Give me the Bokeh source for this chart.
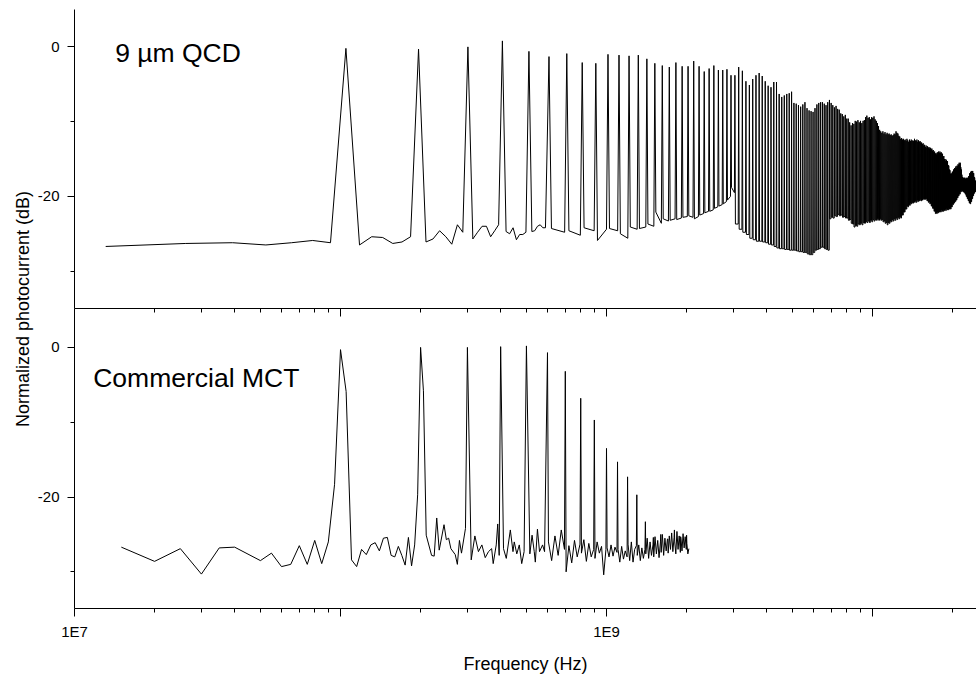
import math

from bokeh.embed import file_html
from bokeh.layouts import column, row
from bokeh.models import CustomJSTickFormatter, FixedTicker, Label, LogAxis, Range1d
from bokeh.plotting import figure
from bokeh.resources import INLINE

FONT = "Liberation Sans"

# ---------------------------------------------------------------------------
# 9 um QCD: beat-note spectrum of the comb
# ---------------------------------------------------------------------------
# Lowest FFT bins (13.1 MHz grid, bins 1..45), first five comb lines included
QCD_BIN_MHZ = 13.1
qcd_low_db = [
    -26.7, -26.3, -26.2, -26.5, -26.2, -25.9, -26.2,
    -0.2,
    -26.5, -25.4, -25.5, -26.3, -26.1, -25.4,
    -0.3,
    -26.1, -25.7, -24.6, -25.4, -26.4, -23.8, -24.8,
    0.0,
    -25.7, -24.8, -24.0, -24.0, -25.4, -24.6, -23.8,
    0.8,
    -24.7, -25.0, -24.2, -25.8, -25.1, -25.1, -24.8,
    -0.6,
    -24.7, -24.6, -24.0, -23.8, -24.2, -24.2,
]

# Comb lines from the 6th harmonic upwards: line level and noise floor after it
QCD_FREP_MHZ = 101.3
QCD_FIRST_HARMONIC = 6
qcd_peak_db = [
    -1.3, -0.9, -2.1, -2.2, -1.0, -1.1, -1.2, -1.1, -1.6, -2.2,
    -2.5, -2.7, -2.1, -2.6, -2.6, -1.9, -2.6, -3.3, -2.9, -2.5,
    -3.1, -3.1, -3.0, -3.8, -3.8, -2.7, -3.2, -4.6, -5.1, -4.3,
    -3.8, -3.5, -3.9, -4.6, -5.2, -5.4, -4.7, -4.7, -6.3, -6.7,
    -6.5, -6.3, -6.2, -6.0, -7.5, -7.6, -7.8, -8.0, -7.7, -7.4,
    -8.2, -8.5, -8.6, -8.7, -8.2, -7.7, -7.5, -7.4, -7.4, -7.6,
    -7.8, -7.4, -7.1, -7.5, -7.8, -8.1, -7.9, -8.3, -8.4, -8.9,
    -9.0, -9.3, -9.1, -9.6, -9.6, -10.1, -10.5, -10.2, -10.3, -9.9,
    -10.0, -9.8, -10.1, -9.9, -10.2, -9.9, -9.8, -9.4, -9.2, -9.5,
    -9.4, -9.7, -9.4, -9.5, -9.3, -9.7, -9.9, -10.2, -10.6, -11.1,
    -11.3, -11.5, -11.3, -11.6, -11.4, -11.7, -11.5, -11.7, -11.6, -11.8,
    -11.7, -11.9, -11.8, -11.6, -11.7, -11.3, -11.5, -11.6, -11.9, -12.0,
    -12.3, -12.2, -12.4, -12.3, -12.5, -12.4, -12.6, -12.3, -12.5, -12.7,
    -12.4, -12.6, -12.4, -12.6, -12.5, -12.6, -12.3, -12.5, -12.6, -12.4,
    -12.7, -12.5, -12.7, -12.6, -12.8, -12.8, -13.0, -12.9, -13.2, -13.1,
    -13.4, -13.2, -13.5, -13.3, -13.5, -13.4, -13.6, -13.5, -13.7, -13.6,
    -13.9, -13.8, -14.1, -14.0, -14.3, -14.2, -14.4, -14.1, -14.3, -14.0,
    -14.2, -14.0, -14.2, -14.1, -14.3, -14.3, -14.7, -14.6, -15.0, -15.0,
    -15.3, -15.1, -15.3, -15.3, -15.8, -15.9, -16.4, -16.5, -17.0, -16.9,
    -17.0, -16.7, -16.7, -16.4, -16.5, -16.2, -16.3, -16.0, -16.2, -15.9,
    -16.0, -15.7, -15.8, -15.5, -15.7, -15.5, -16.1, -16.4, -17.1, -17.4,
    -17.7, -17.5, -17.7, -17.5, -17.6, -17.7, -17.5, -17.6, -17.7, -17.5,
    -17.6, -17.3, -17.3, -16.9, -17.0, -16.7, -16.9, -16.6, -16.8, -16.6,
    -16.9, -16.9, -17.4, -17.5, -17.9, -17.9, -18.3,
]
# noise floor right after each line
qcd_floor_db = [
    -24.3, -24.6, -24.2, -25.9, -24.3, -25.0, -24.1, -24.3, -23.7, -22.1,
    -23.0, -23.2, -23.1, -22.8, -22.6, -23.0, -22.5, -22.2, -22.0, -21.6,
    -21.3, -21.0, -20.5, -18.8, -23.7, -24.4, -24.8, -25.1, -25.6, -25.8,
    -26.0, -26.0, -26.1, -26.2, -26.4, -26.5, -26.7, -26.9, -27.0, -27.0,
    -27.1, -27.1, -27.2, -27.2, -27.2, -27.3, -27.4, -27.4, -27.5, -27.5,
    -27.7, -27.8, -27.8, -27.5, -27.2, -27.1, -27.0, -26.8, -26.8, -27.0,
    -27.1, -27.2, -23.0, -22.8, -22.9, -22.6, -22.7, -22.4, -22.6, -22.5,
    -22.8, -22.7, -22.9, -22.9, -23.2, -23.1, -23.6, -23.7, -24.1, -23.9,
    -24.0, -23.7, -23.8, -23.6, -23.8, -23.5, -23.6, -23.4, -23.5, -23.3,
    -23.5, -23.2, -23.4, -23.1, -23.3, -23.1, -23.2, -23.0, -23.2, -23.0,
    -23.2, -23.1, -23.4, -23.3, -23.6, -23.5, -23.8, -23.5, -23.6, -23.3,
    -23.4, -23.1, -23.3, -23.0, -23.2, -22.9, -23.1, -22.8, -23.0, -22.7,
    -22.9, -22.5, -22.5, -22.1, -22.1, -21.7, -21.7, -21.3, -21.4, -21.1,
    -21.2, -20.9, -21.0, -20.8, -20.9, -20.7, -20.8, -20.6, -20.8, -20.5,
    -20.7, -20.5, -20.6, -20.4, -20.6, -20.4, -20.5, -20.3, -20.4, -20.2,
    -20.4, -20.3, -20.6, -20.5, -20.8, -20.7, -21.0, -20.9, -21.3, -21.3,
    -21.6, -21.6, -22.0, -21.9, -22.3, -22.2, -22.3, -22.1, -22.2, -22.0,
    -22.1, -21.9, -22.1, -21.8, -22.0, -21.8, -22.0, -21.7, -21.9, -21.7,
    -21.9, -21.6, -21.8, -21.6, -21.8, -21.5, -21.7, -21.5, -21.7, -21.4,
    -21.4, -21.0, -21.1, -20.8, -20.9, -20.6, -20.7, -20.4, -20.5, -20.1,
    -20.2, -19.9, -19.9, -19.6, -19.7, -19.3, -19.4, -19.1, -19.3, -19.2,
    -19.4, -19.3, -19.5, -19.4, -19.7, -19.7, -20.0, -20.0, -20.3, -20.3,
    -20.6, -20.5, -20.9, -20.8, -21.0, -20.7, -20.7, -20.3, -20.3, -19.9,
    -19.9, -19.5, -19.6, -19.3, -19.4, -19.1, -19.2,
]
# noise floor just before the next line (6th..29th harmonic; higher up the
# floor is flat between neighbouring lines)
qcd_floor_before_db = [
    -24.8, -25.2, -24.6, -24.4, -24.6, -25.6, -24.4, -24.1, -24.0, -23.6,
    -23.3, -23.0, -22.9, -22.7, -22.8, -22.7, -22.3, -22.0, -21.8, -21.4,
    -21.1, -20.7, -20.0, -19.5,
]

# ---------------------------------------------------------------------------
# Commercial MCT
# ---------------------------------------------------------------------------
mct_low_mhz = [
    15, 20, 25, 30, 35, 40, 50, 55, 60, 65, 70, 75, 80, 85, 90, 95,
    100, 105, 110, 115, 120, 125, 130, 135, 140, 145, 150, 155, 160, 165,
    170, 175, 180, 185, 190, 195, 200, 205,
    210, 220, 225, 230, 235, 245, 250, 255, 260, 270, 275, 280, 285, 295, 300,
    310, 320, 330, 340, 350, 360, 370, 375, 385, 390, 395, 400,
    410, 420, 435, 445, 450, 460, 470, 480, 490, 500,
    515, 525, 535, 540, 550, 560, 575, 585,
]
mct_low_db = [
    -26.7, -28.6, -26.9, -30.3, -26.8, -26.7, -28.5, -27.5, -29.3, -29.0,
    -26.5, -29.0, -25.8, -28.9, -26.0, -18.3,
    -0.3, -5.9, -28.4, -29.3, -27.0, -27.7, -26.4, -26.1, -27.2, -25.5,
    -25.4, -27.8, -28.0, -26.6, -27.8, -29.1, -25.4, -29.2, -26.4, -19.7,
    0.0, -5.8,
    -25.1, -27.8, -27.9, -22.8, -27.1, -23.7, -25.7, -25.5, -26.9, -27.7,
    -29.0, -25.8, -27.5, -24.2, 0.0,
    -28.4, -25.2, -27.3, -26.4, -28.1, -27.3, -26.9, -28.9, -26.4, -23.6,
    -27.8, 0.1,
    -26.9, -28.2, -24.4, -27.3, -26.0, -27.6, -26.4, -28.9, -27.3, 0.2,
    -27.6, -25.1, -27.3, -28.7, -24.3, -27.3, -26.4, -27.3,
]

MCT_FREP_MHZ = 100.0
MCT_FIRST_HARMONIC = 6
mct_peak_db = [-0.7, -3.2, -6.8, -9.7, -13.5, -15.3, -17.3, -19.7, -23.3,
               -25.4, -25.0, -25.6, -24.4, -25.3, -25.1]
mct_floor_db = [
    [-26.0, -28.5, -25.2, -27.8, -24.4, -27.0],
    [-30.0, -26.5, -28.8, -25.8, -28.0, -26.3],
    [-27.5, -25.7, -28.6, -26.2, -28.0, -27.0],
    [-28.2, -26.0, -27.5, -26.6, -30.4, -27.0],
    [-26.8, -28.0, -26.4, -27.9, -26.7, -27.4],
    [-27.0, -28.7, -26.6, -28.3, -27.2, -28.0],
    [-26.3, -28.5, -26.0, -28.7, -27.0, -26.5],
    [-27.8, -26.4, -28.5, -26.8, -28.2, -27.0],
    [-27.6, -25.5, -28.2, -26.0, -27.8, -26.4],
    [-28.0, -25.3, -27.6, -25.8, -28.1, -26.0],
    [-27.4, -25.0, -27.8, -25.5, -27.2, -25.6],
    [-27.5, -25.2, -27.0, -24.8, -27.3, -25.4],
    [-26.0, -27.6, -24.6, -27.0, -25.2, -27.4],
    [-25.5, -27.2, -24.9, -26.8, -25.3, -27.0],
    [-26.2, -27.6, -26.9],
]
MCT_FLOOR_OFFSETS_MHZ = [5, 22, 40, 58, 76, 95]

x_major_ticks = [1e7, 1e8, 1e9, 1e10]
y_major_ticks = [-20, 0]
y_minor_ticks = [-30, -10]


def qcd_trace():
    f = [QCD_BIN_MHZ * (k + 1) for k in range(len(qcd_low_db))]
    y = list(qcd_low_db)
    for i, (pk, fl) in enumerate(zip(qcd_peak_db, qcd_floor_db)):
        c = (QCD_FIRST_HARMONIC + i) * QCD_FREP_MHZ
        fb = qcd_floor_before_db[i] if i < len(qcd_floor_before_db) else fl
        f += [c, c + QCD_BIN_MHZ, c + QCD_FREP_MHZ - QCD_BIN_MHZ]
        y += [pk, fl, fb]
    return [v * 1e6 for v in f], y


def mct_trace():
    f = list(mct_low_mhz)
    y = list(mct_low_db)
    for i, (pk, fl) in enumerate(zip(mct_peak_db, mct_floor_db)):
        c = (MCT_FIRST_HARMONIC + i) * MCT_FREP_MHZ
        f.append(c)
        y.append(pk)
        for off, v in zip(MCT_FLOOR_OFFSETS_MHZ, fl):
            f.append(c + off)
            y.append(v)
    return [v * 1e6 for v in f], y


x_range = Range1d(1e7, 2.46e10)
x_minor = [m * 10.0 ** d for d in range(7, 11) for m in range(2, 10)]


def x_ticker():
    return FixedTicker(ticks=x_major_ticks, minor_ticks=x_minor)


def style_y(p):
    ax = p.yaxis[0]
    ax.ticker = FixedTicker(ticks=y_major_ticks, minor_ticks=y_minor_ticks)
    ax.formatter = CustomJSTickFormatter(code="return tick.toFixed(0);")
    ax.axis_line_color = "black"
    ax.major_tick_line_color = "black"
    ax.minor_tick_line_color = "black"
    ax.major_tick_out = 7
    ax.major_tick_in = 0
    ax.minor_tick_out = 4
    ax.minor_tick_in = 0
    ax.major_label_text_font = FONT
    ax.major_label_text_font_size = "15px"
    ax.major_label_text_color = "black"
    ax.major_label_standoff = 8


def panel(height, y_range, border_top, border_bottom, x_axis):
    p = figure(width=942, height=height, x_axis_type="log", x_range=x_range,
               y_range=y_range, x_axis_location=x_axis,
               output_backend="svg", toolbar_location=None,
               min_border_left=39, min_border_right=0,
               min_border_top=border_top, min_border_bottom=border_bottom,
               outline_line_color=None, background_fill_color="white",
               border_fill_color="white")
    p.grid.visible = False
    style_y(p)
    return p


# upper panel: QCD
top = panel(308, Range1d(-35, 5), 9, 0, None)
fx, fy = qcd_trace()
top.line(fx, fy, line_color="black", line_width=1)
top.add_layout(Label(x=1.422e7, y=-0.85, text="9 µm QCD", text_font=FONT,
                     text_font_size="26.5px", text_color="black",
                     text_baseline="alphabetic", text_align="left"))

# lower panel: MCT
bot = panel(369, Range1d(-34.9, 5.2), 0, 69, "below")
mx, my = mct_trace()
bot.line(mx, my, line_color="black", line_width=1)
bot.add_layout(Label(x=1.176e7, y=-4.1, text="Commercial MCT", text_font=FONT,
                     text_font_size="26.5px", text_color="black",
                     text_baseline="alphabetic", text_align="left"))

xa = bot.xaxis[0]
xa.ticker = x_ticker()
xa.formatter = CustomJSTickFormatter(
    code="const e = Math.round(Math.log10(tick)); return (e % 2 === 1) ? '1E' + e : '';")
xa.axis_line_color = "black"
xa.major_tick_line_color = "black"
xa.minor_tick_line_color = "black"
xa.major_tick_out = 8
xa.major_tick_in = 0
xa.minor_tick_out = 4
xa.minor_tick_in = 0
xa.major_label_text_font = FONT
xa.major_label_text_font_size = "15px"
xa.major_label_text_color = "black"
xa.major_label_standoff = 6
xa.axis_label = "Frequency (Hz)"
xa.axis_label_text_font = FONT
xa.axis_label_text_font_size = "18px"
xa.axis_label_text_font_style = "normal"
xa.axis_label_text_color = "black"
xa.axis_label_standoff = 11

# shared boundary between the panels: the upper panel's frequency axis
mid = LogAxis(ticker=x_ticker(), formatter=CustomJSTickFormatter(code="return '';"),
              axis_line_color="black", major_tick_line_color="black",
              minor_tick_line_color="black", major_tick_in=8, major_tick_out=0,
              minor_tick_in=4, minor_tick_out=0, major_label_standoff=0,
              major_label_text_font_size="0px")
bot.add_layout(mid, "above")

# common y-axis title
ylab = figure(width=34, height=677, x_range=Range1d(0, 34), y_range=Range1d(0, 677),
              output_backend="svg", toolbar_location=None, min_border=0,
              x_axis_location=None, y_axis_location=None, outline_line_color=None)
ylab.grid.visible = False
ylab.add_layout(Label(x=22, y=368.5, text="Normalized photocurrent (dB)", angle=math.pi / 2,
                      text_font=FONT, text_font_size="18px", text_color="black",
                      text_align="center", text_baseline="middle"))

layout = row(ylab, column(top, bot))
open("out.html", "w").write(file_html(layout, INLINE))
